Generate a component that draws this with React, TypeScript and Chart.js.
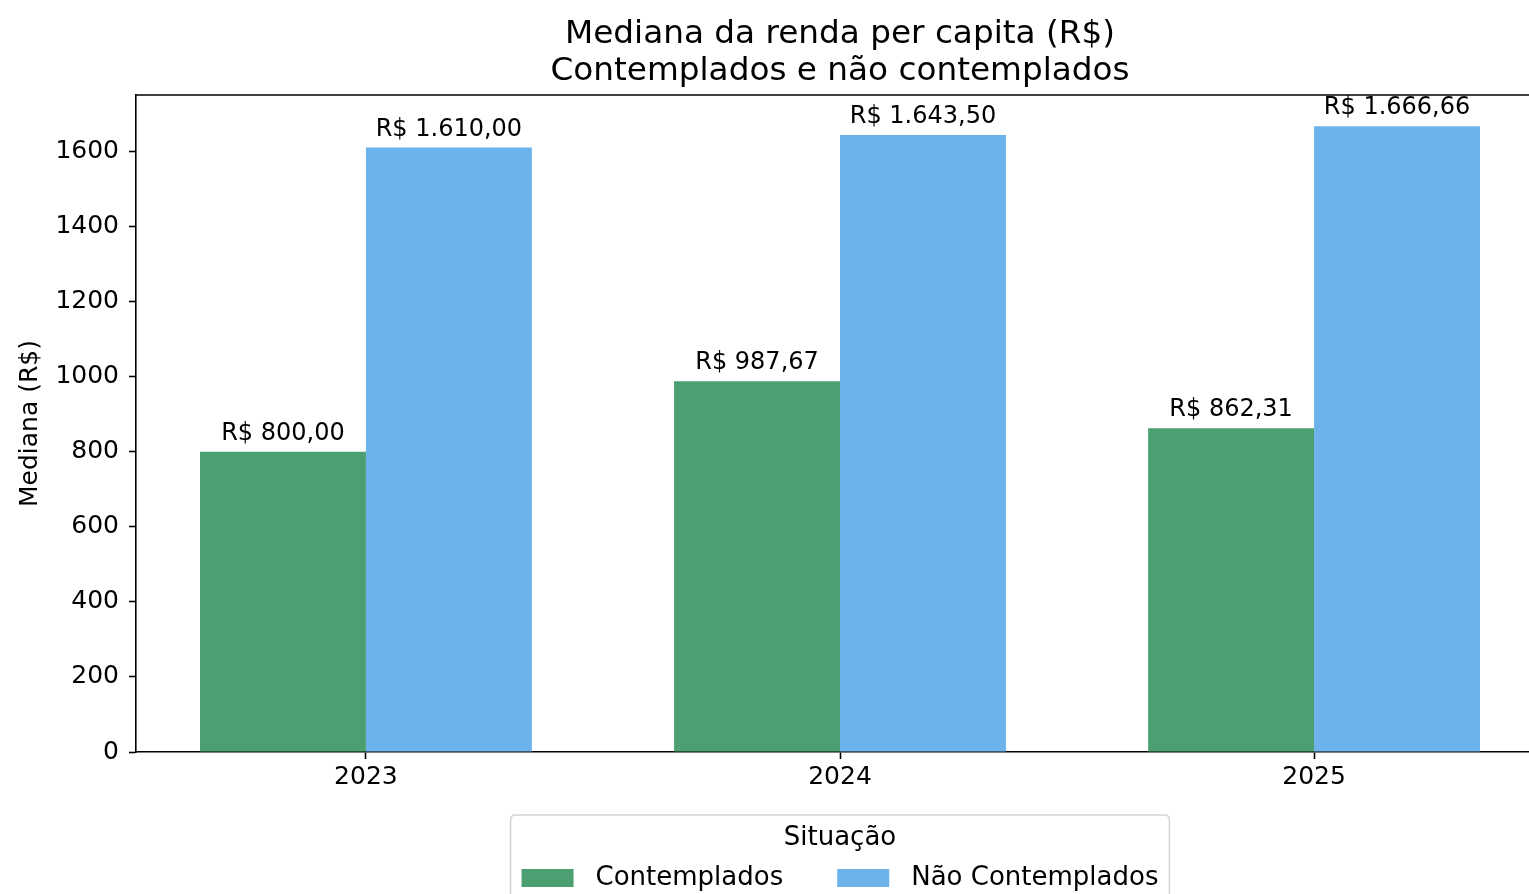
import React, { useEffect, useRef } from 'react';
import { Chart, registerables } from 'chart.js';

Chart.register(...registerables);

// ---- data ----
const years = ['2023', '2024', '2025'];
const contemplados = [800.0, 987.67, 862.31];
const naoContemplados = [1610.0, 1643.5, 1666.66];
const seriesNames = ['Contemplados', 'Não Contemplados'];
const seriesColors = ['#4c9f70', '#6cb2eb'];
const yTicks = [0, 200, 400, 600, 800, 1000, 1200, 1400, 1600];
const titleLines = ['Mediana da renda per capita (R$)', 'Contemplados e não contemplados'];
const legendTitle = 'Situação';
const yAxisTitle = 'Mediana (R$)';

const FONT = '"DejaVu Sans", sans-serif';
const W = 1560;
const H = 894;
const AREA_LEFT = 136;
const AREA_RIGHT = 1544;
const AREA_TOP = 95;
const AREA_BOTTOM = 752;

function fmtBRL(v: number): string {
  const [i, d] = v.toFixed(2).split('.');
  const withSep = i.replace(/\B(?=(\d{3})+(?!\d))/g, '.');
  return `R$ ${withSep},${d}`;
}

const decorPlugin = {
  id: 'decor',
  afterDatasetsDraw(chart: any) {
    const ctx = chart.ctx;
    ctx.save();
    ctx.font = `24px ${FONT}`;
    ctx.fillStyle = '#000';
    ctx.textAlign = 'center';
    ctx.textBaseline = 'alphabetic';
    chart.data.datasets.forEach((ds: any, di: number) => {
      const meta = chart.getDatasetMeta(di);
      meta.data.forEach((el: any, i: number) => {
        const v = ds.data[i].y;
        ctx.fillText(fmtBRL(v), el.x, el.y - 12);
      });
    });
    ctx.restore();
  },
  afterDraw(chart: any) {
    const { ctx, chartArea: ca } = chart;
    ctx.save();
    // top and right spines
    ctx.strokeStyle = '#000';
    ctx.lineWidth = 1.6;
    ctx.beginPath();
    ctx.moveTo(ca.left, ca.top);
    ctx.lineTo(ca.right, ca.top);
    ctx.lineTo(ca.right, ca.bottom);
    ctx.stroke();

    const cx = (ca.left + ca.right) / 2;
    // title
    ctx.fillStyle = '#000';
    ctx.font = `32.7px ${FONT}`;
    ctx.textAlign = 'center';
    ctx.textBaseline = 'middle';
    titleLines.forEach((t, i) => ctx.fillText(t, cx, 35 + i * 37));

    // legend
    const items = chart.data.datasets.map((ds: any) => ({ label: ds.label, color: ds.backgroundColor }));
    ctx.font = `26px ${FONT}`;
    const swW = 52, swH = 18, gap = 22, colGap = 54, pad = 11;
    const widths = items.map((it: any) => swW + gap + ctx.measureText(it.label).width);
    const contentW = widths.reduce((a: number, b: number) => a + b, 0) + colGap * (items.length - 1);
    const boxW = contentW + 2 * pad;
    const boxL = cx - boxW / 2;
    const boxT = 815;
    const boxH = 110;
    const r = 5;
    ctx.beginPath();
    ctx.moveTo(boxL + r, boxT);
    ctx.lineTo(boxL + boxW - r, boxT);
    ctx.quadraticCurveTo(boxL + boxW, boxT, boxL + boxW, boxT + r);
    ctx.lineTo(boxL + boxW, boxT + boxH);
    ctx.lineTo(boxL, boxT + boxH);
    ctx.lineTo(boxL, boxT + r);
    ctx.quadraticCurveTo(boxL, boxT, boxL + r, boxT);
    ctx.closePath();
    ctx.fillStyle = 'rgba(255,255,255,0.8)';
    ctx.fill();
    ctx.strokeStyle = '#d4d4d4';
    ctx.lineWidth = 1.5;
    ctx.stroke();

    ctx.fillStyle = '#000';
    ctx.textAlign = 'center';
    ctx.textBaseline = 'middle';
    ctx.fillText(legendTitle, cx, 838);

    let x = boxL + pad;
    const yc = 878;
    items.forEach((it: any, i: number) => {
      ctx.fillStyle = it.color;
      ctx.fillRect(x, yc - swH / 2, swW, swH);
      ctx.fillStyle = '#000';
      ctx.textAlign = 'left';
      ctx.fillText(it.label, x + swW + gap, yc);
      x += widths[i] + colGap;
    });
    ctx.restore();
  },
};

export default function App() {
  const ref = useRef<HTMLCanvasElement | null>(null);

  useEffect(() => {
    if (!ref.current) return;
    const chart = new Chart(ref.current, {
      type: 'bar',
      data: {
        datasets: [
          {
            label: seriesNames[0],
            data: contemplados.map((v, i) => ({ x: i, y: v })),
            backgroundColor: seriesColors[0],
            borderWidth: 0,
          },
          {
            label: seriesNames[1],
            data: naoContemplados.map((v, i) => ({ x: i, y: v })),
            backgroundColor: seriesColors[1],
            borderWidth: 0,
          },
        ],
      },
      options: {
        responsive: false,
        animation: false,
        devicePixelRatio: 1,
        datasets: { bar: { categoryPercentage: 0.7, barPercentage: 1.0 } },
        layout: { padding: { top: AREA_TOP, left: 0, right: W - AREA_RIGHT, bottom: 0 } },
        plugins: {
          legend: { display: false },
          title: { display: false },
          tooltip: { enabled: false },
        },
        scales: {
          x: {
            type: 'linear',
            min: -0.485,
            max: 2.485,
            offset: false,
            afterBuildTicks: (s: any) => {
              s.ticks = years.map((_, i) => ({ value: i }));
            },
            afterFit: (s: any) => {
              s.height = H - AREA_BOTTOM;
            },
            grid: {
              display: true,
              offset: false,
              drawOnChartArea: false,
              drawTicks: true,
              tickLength: 7,
              tickColor: '#000',
              tickWidth: 1.6,
            },
            border: { display: true, color: '#000', width: 1.6 },
            ticks: {
              autoSkip: false,
              maxRotation: 0,
              padding: 3,
              color: '#000',
              font: { family: FONT, size: 25 },
              callback: (v: any) => years[Math.round(Number(v))] ?? '',
            },
          },
          y: {
            min: 0,
            max: 1750,
            afterBuildTicks: (s: any) => {
              s.ticks = yTicks.map((v) => ({ value: v }));
            },
            afterFit: (s: any) => {
              s.width = AREA_LEFT;
            },
            grid: {
              display: true,
              drawOnChartArea: false,
              drawTicks: true,
              tickLength: 7,
              tickColor: '#000',
              tickWidth: 1.6,
            },
            border: { display: true, color: '#000', width: 1.6 },
            ticks: {
              padding: 10,
              color: '#000',
              font: { family: FONT, size: 25 },
              callback: (v: any) => String(v),
            },
            title: {
              display: true,
              text: yAxisTitle,
              color: '#000',
              font: { family: FONT, size: 25 },
              padding: { top: 15, bottom: 0 },
            },
          },
        },
      },
      plugins: [decorPlugin],
    } as any);
    return () => chart.destroy();
  }, []);

  return (
    <div style={{ position: 'fixed', left: 0, top: 0, width: 1529, height: 894, overflow: 'hidden', background: '#fff' }}>
      <canvas ref={ref} width={W} height={H} style={{ width: W, height: H, display: 'block' }} />
    </div>
  );
}
